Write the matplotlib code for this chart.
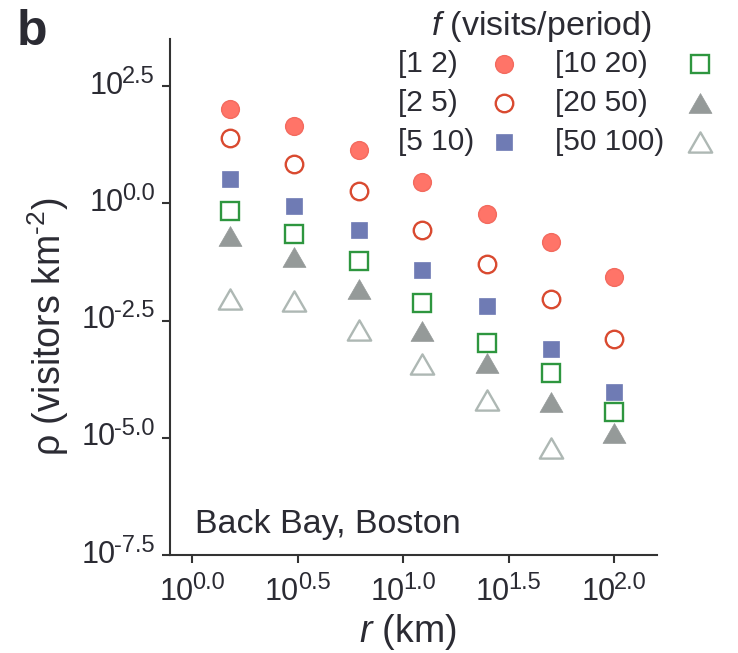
import numpy as np
import matplotlib
matplotlib.use("Agg")
import matplotlib.pyplot as plt
from matplotlib.path import Path
from matplotlib.ticker import FixedLocator, NullLocator, NullFormatter
from matplotlib.offsetbox import (TextArea, HPacker, VPacker, DrawingArea,
                                  AnnotationBbox)

plt.rcParams['font.family'] = ['Liberation Sans', 'DejaVu Sans']
plt.rcParams['mathtext.fontset'] = 'custom'
plt.rcParams['mathtext.rm'] = 'Liberation Sans'
plt.rcParams['mathtext.it'] = 'Liberation Sans:italic'
plt.rcParams['mathtext.bf'] = 'Liberation Sans:bold'

# ---------------- data ----------------
r_km = [1.51, 3.02, 6.17, 12.3, 25.1, 50.1, 100.0]
# log10 of density (visitors km^-2) per visit-frequency bin
log_rho_1_2 = [2.01, 1.65, 1.14, 0.46, -0.23, -0.83, -1.58]
log_rho_2_5 = [1.40, 0.83, 0.26, -0.56, -1.29, -2.03, -2.89]
log_rho_5_10 = [0.52, -0.06, -0.57, -1.42, -2.19, -3.10, -4.02]
log_rho_10_20 = [-0.16, -0.65, -1.22, -2.12, -2.97, -3.61, -4.46]
log_rho_20_50 = [-0.70, -1.15, -1.83, -2.72, -3.40, -4.24, -4.90]
log_rho_50_100 = [-2.04, -2.09, -2.70, -3.43, -4.19, -5.22, np.nan]
labels = ['[1 2)', '[2 5)', '[5 10)', '[10 20)', '[20 50)', '[50 100)']
x_tick_exp = [0.0, 0.5, 1.0, 1.5, 2.0]
y_tick_exp = [-7.5, -5.0, -2.5, 0.0, 2.5]

series = [log_rho_1_2, log_rho_2_5, log_rho_5_10,
          log_rho_10_20, log_rho_20_50, log_rho_50_100]

# ---------------- styles ----------------
tri = Path([(0, 0.866), (-1, -0.866), (1, -0.866), (0, 0.866)],
           [Path.MOVETO, Path.LINETO, Path.LINETO, Path.CLOSEPOLY])
styles = [
    dict(marker='o', ms=12.8, mfc='#FF7468', mec='#F36A5E', mew=1.0),
    dict(marker='o', ms=12.6, mfc='white', mec='#D94A30', mew=1.7),
    dict(marker='s', ms=12.2, mfc='#6F7BB4', mec='#6F7BB4', mew=0.5),
    dict(marker='s', ms=12.6, mfc='white', mec='#2E963F', mew=1.7),
    dict(marker=tri, ms=16.5, mfc='#959A99', mec='#959A99', mew=0.5),
    dict(marker=tri, ms=16.8, mfc='white', mec='#AEB8B4', mew=1.7),
]

text_color = '#2B2B33'
spine_color = '#333333'
tick_fs = 22
sup_fs = 17

fig = plt.figure(figsize=(7.38, 6.53), dpi=100)
ax = fig.add_axes([170 / 738, 98 / 653, 486.7 / 738, 515.7 / 653])

for vals, st in zip(series, styles):
    ax.plot(r_km, 10 ** np.array(vals), ls='none', **st)

ax.set_xscale('log')
ax.set_yscale('log')
ax.set_xlim(10 ** -0.106, 10 ** 2.203)
ax.set_ylim(10 ** -7.5, 10 ** 3.5)

ax.xaxis.set_major_locator(FixedLocator([10 ** e for e in x_tick_exp]))
ax.yaxis.set_major_locator(FixedLocator([10 ** e for e in y_tick_exp]))
ax.xaxis.set_minor_locator(NullLocator())
ax.yaxis.set_minor_locator(NullLocator())
ax.xaxis.set_major_formatter(NullFormatter())
ax.yaxis.set_major_formatter(NullFormatter())

for s in ['top', 'right']:
    ax.spines[s].set_visible(False)
for s in ['left', 'bottom']:
    ax.spines[s].set_linewidth(1.5)
    ax.spines[s].set_color(spine_color)
ax.tick_params(axis='both', which='major', length=6, width=1.5,
               color=spine_color)


def power_label(e):
    base = TextArea('10', textprops=dict(fontsize=tick_fs, color=text_color))
    base_box = VPacker(children=[DrawingArea(1, 3.5), base], pad=0, sep=0,
                       align='left')
    sup = TextArea('%.1f' % e, textprops=dict(fontsize=sup_fs, color=text_color))
    return HPacker(children=[base_box, sup], align='top', pad=0, sep=-1.0)


for e in x_tick_exp:
    ab = AnnotationBbox(power_label(e), (10 ** e, 0),
                        xycoords=('data', 'axes fraction'),
                        xybox=(0, -12.0), boxcoords='offset points',
                        box_alignment=(0.5, 1.0), frameon=False,
                        annotation_clip=False, pad=0)
    ax.add_artist(ab)

for e in y_tick_exp:
    ab = AnnotationBbox(power_label(e), (0, 10 ** e),
                        xycoords=('axes fraction', 'data'),
                        xybox=(-11.0, 2.0), boxcoords='offset points',
                        box_alignment=(1.0, 0.5), frameon=False,
                        annotation_clip=False, pad=0)
    ax.add_artist(ab)

# axis labels
ax.text(-0.251, 0.442, 'ρ (visitors km$^{\u2010 2}$)', rotation=90,
        ha='center', va='center', transform=ax.transAxes, fontsize=27,
        color=text_color)
ax.text(0.489, -0.149, '$r$ (km)', ha='center', va='center',
        transform=ax.transAxes, fontsize=27, color=text_color)

# annotation
ax.text(0.0514, 0.0427, 'Back Bay, Boston', ha='left', va='baseline',
        transform=ax.transAxes, fontsize=24.5, color=text_color)

# panel letter
fig.text(0.022, 1 - 45 / 653, 'b', fontsize=36, fontweight='bold',
         ha='left', va='baseline', color=text_color)

# manual legend (text left, marker right)
ax.text(0.764, 1.025, '$f$ (visits/period)', ha='center', va='center',
        transform=ax.transAxes, fontsize=24.5, color=text_color)
row_y = [0.953, 0.877, 0.800]
col_text_x = [0.4685, 0.791]
col_mark_x = [0.687, 1.089]
for i, (lab, st) in enumerate(zip(labels, styles)):
    c, r = divmod(i, 3)
    ax.text(col_text_x[c], row_y[r], lab, ha='left', va='center',
            transform=ax.transAxes, fontsize=21.5, color=text_color)
    ax.plot([col_mark_x[c]], [row_y[r]], transform=ax.transAxes,
            clip_on=False, ls='none', **st)

fig.savefig('out.png', dpi=100)
